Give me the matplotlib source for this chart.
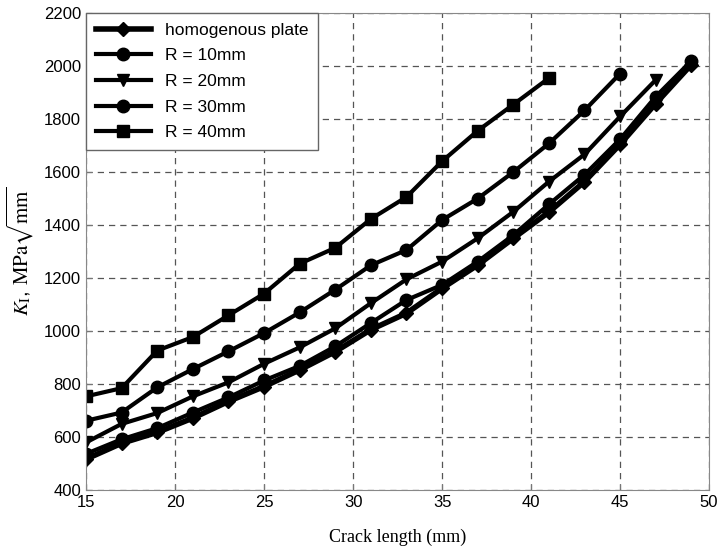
import numpy as np
import matplotlib.pyplot as plt

plt.rcParams['font.family'] = ['Liberation Sans', 'DejaVu Sans']
plt.rcParams['mathtext.fontset'] = 'stix'

# crack lengths (mm) and stress intensity factors (MPa sqrt(mm))
crack = [15, 17, 19, 21, 23, 25, 27, 29, 31, 33, 35, 37, 39, 41, 43, 45, 47, 49]
k_homog = [516, 576, 617, 671, 734, 790, 853, 922, 1005, 1067, 1161, 1249,
           1350, 1449, 1564, 1705, 1859, 2006]
k_r10 = [536, 591, 633, 692, 749, 813, 868, 942, 1030, 1117, 1174, 1262,
         1362, 1478, 1590, 1724, 1885, 2020]
k_r20 = [579, 649, 690, 753, 806, 876, 938, 1010, 1105, 1195, 1262, 1350,
         1450, 1564, 1667, 1810, 1948]
k_r30 = [661, 692, 787, 856, 923, 992, 1070, 1156, 1248, 1306, 1419, 1500,
         1600, 1708, 1833, 1972]
k_r40 = [753, 784, 926, 977, 1059, 1141, 1254, 1314, 1423, 1506, 1641, 1756,
         1855, 1955]

labels = ['homogenous plate', 'R = 10mm', 'R = 20mm', 'R = 30mm', 'R = 40mm']

fig = plt.figure(figsize=(7.17, 5.51), dpi=100)
ax = fig.add_axes([0.120, 0.111, 0.869, 0.865])

ax.plot(crack[:len(k_homog)], k_homog, color='k', lw=4, marker='D', ms=7, label=labels[0])
ax.plot(crack[:len(k_r10)], k_r10, color='k', lw=3, marker='o', ms=9, label=labels[1])
ax.plot(crack[:len(k_r20)], k_r20, color='k', lw=3, marker='v', ms=9, label=labels[2])
ax.plot(crack[:len(k_r30)], k_r30, color='k', lw=3, marker='o', ms=9, label=labels[3])
ax.plot(crack[:len(k_r40)], k_r40, color='k', lw=3, marker='s', ms=9, label=labels[4])

ax.set_xlim(15, 50)
ax.set_ylim(400, 2200)
ax.set_xticks(np.arange(15, 51, 5))
ax.set_yticks(np.arange(400, 2201, 200))
ax.tick_params(labelsize=12, direction='in', length=4, color='#777777')
ax.grid(True, linestyle=(0, (5, 4)), color='#555555', lw=0.9)
for s in ax.spines.values():
    s.set_color('#888888')

ax.set_xlabel('Crack length (mm)', fontsize=13, family='Liberation Serif', labelpad=14)
ax.set_ylabel(r'$K_\mathrm{I}$, $\mathrm{MPa}\sqrt{\mathrm{mm}}$', fontsize=15, labelpad=6)

leg = ax.legend(loc='upper left', fontsize=12.5, fancybox=False, framealpha=1,
                edgecolor='#666666', borderaxespad=0.0, handlelength=3.2,
                labelspacing=0.6, borderpad=0.55)
leg.get_frame().set_linewidth(1.0)

fig.savefig('out.png', dpi=100)
